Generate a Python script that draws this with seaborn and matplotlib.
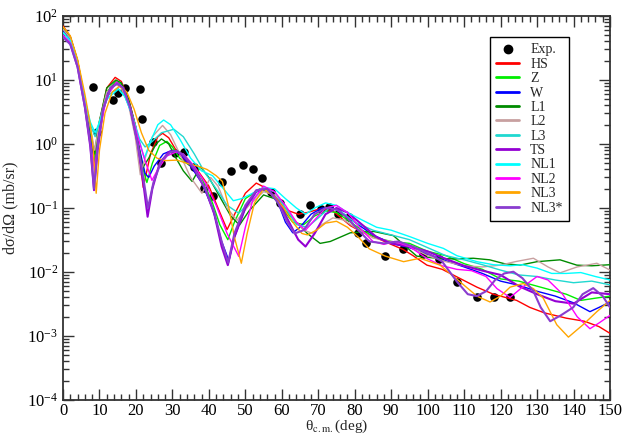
import numpy as np
import pandas as pd
import matplotlib
matplotlib.use("Agg")
import matplotlib.pyplot as plt
from matplotlib.lines import Line2D
from matplotlib.ticker import MultipleLocator, LogLocator, LogFormatterMathtext, NullFormatter
import seaborn as sns

# ---------------- data ----------------
exp_x = [8.3, 9.4, 13.8, 15.0, 16.9, 21.0, 21.8, 24.7, 26.9, 30.6, 33.1, 35.8, 38.8, 41.2,
         43.7, 46.0, 49.3, 52.1, 54.6, 57.0, 59.6, 65.1, 67.8, 70.7, 73.0, 75.3, 78.5, 81.0,
         83.2, 88.2, 93.2, 98.7, 103.0, 108.0, 113.4, 118.1, 122.6]
exp_y = [7.7, 1.56, 4.8, 6.3, 7.6, 7.2, 2.48, 1.09, 0.51, 0.73, 0.74, 0.44, 0.209, 0.154,
         0.258, 0.383, 0.47, 0.404, 0.292, 0.179, 0.118, 0.0805, 0.110, 0.0965, 0.105, 0.0805,
         0.0711, 0.0414, 0.0287, 0.0181, 0.0226, 0.0191, 0.0158, 0.00705, 0.00403, 0.0040, 0.0040]

hs_x = [0, 2, 4, 6, 7.5, 8.6, 10, 12, 14.3, 16, 18, 20, 22, 24, 26, 27.3, 29, 31, 34, 37, 40,
        42.5, 45, 47.5, 50, 53, 56, 59, 62, 64.5, 67, 70.5, 74, 78.8, 82, 86, 90, 93.2, 96,
        99.8, 104, 108, 113.5, 118, 124.4, 128, 132, 138, 143, 147, 150]
hs_y = [70, 48, 20, 5, 1.6, 0.6, 2.2, 7.5, 11, 9.5, 5, 1.8, 0.21, 0.7, 1.3, 1.47, 1.25, 0.8, 0.5,
        0.38, 0.22, 0.1, 0.046, 0.09, 0.17, 0.245, 0.2, 0.12, 0.09, 0.08, 0.085, 0.097, 0.09,
        0.053, 0.042, 0.034, 0.027, 0.0226, 0.018, 0.0128, 0.011, 0.0084, 0.0058, 0.0045,
        0.0036, 0.0028, 0.0023, 0.0019, 0.0017, 0.0014, 0.0011]

z_x = [0, 2, 4, 6, 7.5, 8.7, 10, 12, 14.5, 16, 18, 20, 21.5, 23, 24.5, 26.5, 28.5, 30, 32, 35,
       38, 41, 43, 45.2, 47, 50, 54, 57, 60, 63, 66, 69, 72, 75, 78, 82, 86, 90, 95, 100, 105,
       110, 115, 120, 125, 130, 134, 138, 142, 146, 150]
z_y = [65, 46, 19, 4.5, 1.4, 0.55, 2.0, 6.5, 9.5, 8.5, 4.5, 1.6, 0.5, 0.25, 0.5, 0.95, 1.1, 0.9,
       0.6, 0.45, 0.3, 0.12, 0.055, 0.032, 0.06, 0.14, 0.2, 0.17, 0.1, 0.06, 0.055, 0.075, 0.09,
       0.085, 0.065, 0.045, 0.034, 0.03, 0.028, 0.021, 0.018, 0.0135, 0.011, 0.0078, 0.0072,
       0.006, 0.0052, 0.0045, 0.0036, 0.0039, 0.0042]

w_x = [0, 2, 4, 6, 7.5, 8.8, 10, 12, 14.8, 16.5, 18.5, 20.5, 22.5, 23.5, 25, 27.5, 30, 32, 35,
       38, 41, 43.5, 45.5, 47, 50, 53, 56, 59, 61, 63, 65, 68, 71, 74, 77, 80, 85, 90, 95, 100,
       105, 110, 115, 120, 125, 130, 135, 140, 144.5, 147, 150]
w_y = [60, 44, 18, 4.2, 1.2, 0.45, 1.8, 6, 9, 7.5, 3.5, 1.1, 0.35, 0.3, 0.45, 0.7, 0.8, 0.7,
       0.45, 0.25, 0.1, 0.03, 0.015, 0.035, 0.1, 0.18, 0.2, 0.12, 0.06, 0.041, 0.05, 0.08, 0.1,
       0.1, 0.08, 0.06, 0.038, 0.028, 0.024, 0.019, 0.015, 0.012, 0.0095, 0.0072, 0.0062,
       0.005, 0.0042, 0.0033, 0.0024, 0.0028, 0.0034]

l1_x = [0, 2, 4, 6, 7.5, 8.6, 10, 12, 14.5, 16, 18, 20, 21.8, 23.5, 25.5, 27, 29, 31, 33,
        35.4, 37.7, 40, 43, 46, 48.4, 51, 55, 58, 61, 64, 67, 70.5, 73.3, 78.8, 85.2, 90.6,
        97, 102.5, 107, 112.5, 117, 121, 125.3, 130, 136.3, 140.9, 145, 150]
l1_y = [65, 47, 20, 5, 1.7, 0.7, 2.3, 7.5, 10, 9, 5, 1.8, 0.42, 0.6, 1.0, 1.2, 1.0, 0.6, 0.38,
        0.26, 0.44, 0.3, 0.15, 0.075, 0.054, 0.09, 0.16, 0.14, 0.09, 0.06, 0.04, 0.028, 0.03,
        0.041, 0.043, 0.037, 0.0177, 0.0164, 0.016, 0.0164, 0.0155, 0.0135, 0.0128, 0.0145,
        0.0155, 0.0128, 0.0125, 0.013]

l2_x = [0, 2, 4, 6, 7.5, 8.7, 10, 12, 14.6, 16, 18, 19.8, 21.2, 22.5, 24.5, 27.3, 29.5, 32,
        35, 38.1, 40.5, 42.5, 45, 47.7, 51, 55, 58, 61, 64, 66, 68.5, 71, 74, 77, 80, 85, 90,
        95, 100, 105, 110, 115, 120, 124, 129, 133, 136.3, 141, 146.4, 150]
l2_y = [62, 45, 19, 4.8, 1.8, 0.8, 2.2, 6.5, 8.5, 7.5, 4, 1.3, 0.33, 0.6, 1.3, 1.95, 1.4, 0.7,
        0.3, 0.17, 0.3, 0.22, 0.1, 0.064, 0.11, 0.18, 0.16, 0.1, 0.06, 0.045, 0.04, 0.055, 0.07,
        0.065, 0.05, 0.034, 0.03, 0.025, 0.018, 0.0145, 0.0125, 0.012, 0.0128, 0.0145, 0.0164,
        0.012, 0.0097, 0.012, 0.0137, 0.0107]

l3_x = [0, 2, 4, 6, 7.5, 8.8, 10, 12, 15, 17, 19, 21, 22.5, 24.5, 27, 30.4, 33, 36, 39, 42,
        45, 48.2, 51, 55, 58, 61, 64, 67, 70, 73, 76, 80, 85, 90, 95, 100, 105, 110, 115, 120,
        125, 130, 135, 140, 145, 150]
l3_y = [55, 41, 18, 4.8, 2.0, 1.3, 2.2, 5.5, 7.5, 5.5, 2.8, 1.2, 0.9, 1.1, 1.5, 1.7, 1.3, 0.7,
        0.35, 0.2, 0.11, 0.083, 0.12, 0.2, 0.18, 0.1, 0.055, 0.05, 0.07, 0.1, 0.09, 0.06, 0.045,
        0.038, 0.032, 0.024, 0.018, 0.0155, 0.013, 0.0107, 0.009, 0.0085, 0.0075, 0.0068,
        0.0072, 0.0063]

ts_x = [0, 2, 4, 6, 7.5, 8.5, 9.5, 11, 13, 14.8, 16.5, 18.5, 20.5, 22, 23.2, 24.5, 26.5, 29,
        31, 33, 36, 39, 41.5, 43.5, 45.2, 47, 50, 53, 56, 59, 62, 64.5, 66.5, 69, 72, 75, 78,
        82, 86, 90, 95, 100, 105, 110, 115, 120, 125, 130, 135, 140, 145, 150]
ts_y = [48, 37, 16, 3.8, 0.9, 0.19, 0.8, 3.5, 7.5, 9, 7.5, 3.5, 1.0, 0.25, 0.073, 0.2, 0.5,
        0.75, 0.78, 0.65, 0.4, 0.2, 0.08, 0.025, 0.0128, 0.035, 0.1, 0.18, 0.2, 0.13, 0.06,
        0.032, 0.025, 0.04, 0.08, 0.1, 0.085, 0.055, 0.035, 0.028, 0.025, 0.021, 0.016, 0.0125,
        0.0105, 0.009, 0.006, 0.0045, 0.0035, 0.0032, 0.0048, 0.0045]

nl1_x = [0, 2, 4, 6, 7.5, 8.8, 10, 12, 15.2, 17, 19, 21, 22.3, 24, 26, 27.6, 29.5, 32, 35, 38,
         41, 44, 46.7, 49, 52, 55, 58, 61, 64, 66.5, 69, 72, 75, 78, 82, 86, 90, 95.2, 100,
         104.3, 108, 113.5, 118, 122.6, 126, 130, 134, 138, 142, 146, 150]
nl1_y = [55, 41, 18, 5, 2.2, 1.5, 2.2, 5, 7.2, 5.5, 2.8, 1.1, 0.6, 1.1, 2.0, 2.37, 2.0, 1.2,
         0.6, 0.38, 0.32, 0.2, 0.13, 0.14, 0.17, 0.21, 0.2, 0.14, 0.1, 0.08, 0.1, 0.12, 0.11,
         0.085, 0.065, 0.05, 0.045, 0.0355, 0.028, 0.0234, 0.018, 0.0145, 0.013, 0.0125, 0.013,
         0.0115, 0.0095, 0.0095, 0.0098, 0.0085, 0.0075]

nl2_x = [0, 2, 4, 6, 7.5, 8.6, 10, 12, 14.7, 16.5, 18.5, 20.5, 22.5, 24.4, 26, 28.5, 31, 33,
         36, 39, 42, 45, 48.2, 50, 52, 55, 58, 61, 64, 66.5, 69, 72, 75, 78, 82, 85, 88, 91, 95,
         100, 104, 108, 112, 116, 119, 122.6, 126, 130, 133, 137, 141, 144.5, 147, 150]
nl2_y = [50, 38, 17, 4.2, 1.0, 0.4, 1.5, 5.5, 9.3, 7.5, 3.5, 1.3, 0.55, 0.27, 0.4, 0.65, 0.75,
         0.7, 0.45, 0.25, 0.11, 0.04, 0.0175, 0.05, 0.13, 0.22, 0.18, 0.11, 0.06, 0.045, 0.065,
         0.1, 0.11, 0.085, 0.045, 0.03, 0.027, 0.03, 0.025, 0.016, 0.0125, 0.011, 0.0105,
         0.0085, 0.0055, 0.004, 0.0058, 0.0085, 0.0075, 0.0045, 0.002, 0.0013, 0.0016, 0.0021]

nl3_x = [0, 2, 4, 6, 7.5, 8.3, 9.1, 10, 11.5, 13.5, 15.5, 17.5, 19.5, 21.5, 23.5, 25.8, 28,
         31.3, 34, 37, 39.5, 42, 43.7, 45.5, 47, 48.9, 50.5, 52.5, 55, 58, 60.5, 63.2, 65.5, 67,
         69.5, 72, 75, 78, 81, 84, 88.4, 93.4, 97.9, 103.4, 108.9, 113.5, 117.1, 120, 122.6,
         126.2, 129, 131.7, 135.4, 138.6, 142.6, 146.4, 150]
nl3_y = [68, 49, 21, 6, 2.0, 0.8, 0.17, 0.8, 3, 6.5, 8, 6.5, 3.5, 1.5, 0.8, 0.6, 0.55, 0.56,
         0.5, 0.45, 0.4, 0.32, 0.26, 0.1, 0.035, 0.0137, 0.04, 0.12, 0.2, 0.15, 0.1, 0.058, 0.04,
         0.038, 0.045, 0.058, 0.062, 0.05, 0.035, 0.023, 0.0177, 0.0145, 0.0164, 0.0128, 0.007,
         0.0042, 0.0034, 0.0042, 0.0058, 0.0066, 0.0055, 0.0039, 0.0015, 0.00096, 0.0015,
         0.0024, 0.0036]

nl3s_x = [0, 2, 4, 6, 7.5, 8.5, 9.5, 11, 13, 14.9, 16.5, 18.5, 20.5, 22, 23.3, 24.8, 27, 29.5,
          31, 33, 36, 39, 41.5, 43.5, 45.3, 47, 50, 53, 56, 59, 61.5, 63.5, 66, 69, 72, 75, 78,
          81, 84, 88, 92, 96, 101.6, 104, 108, 111, 113.5, 116, 118.5, 121, 123.5, 126, 129,
          131, 133.6, 136.5, 139.9, 142.5, 145.4, 148, 150]
nl3s_y = [47, 36, 16, 3.8, 1.0, 0.2, 0.9, 3.5, 7.4, 8.8, 7.5, 3.6, 1.0, 0.3, 0.1, 0.25, 0.55,
          0.75, 0.78, 0.68, 0.42, 0.2, 0.085, 0.03, 0.014, 0.04, 0.11, 0.19, 0.2, 0.12, 0.06,
          0.04, 0.045, 0.08, 0.1, 0.095, 0.07, 0.045, 0.03, 0.028, 0.03, 0.025, 0.0177, 0.0145,
          0.0071, 0.0045, 0.0042, 0.005, 0.0075, 0.0095, 0.0101, 0.008, 0.005, 0.0028, 0.0017,
          0.0021, 0.0028, 0.0045, 0.0056, 0.0042, 0.0028]

models = ["HS", "Z", "W", "L1", "L2", "L3", "TS", "NL1", "NL2", "NL3", "NL3*"]
model_x = [hs_x, z_x, w_x, l1_x, l2_x, l3_x, ts_x, nl1_x, nl2_x, nl3_x, nl3s_x]
model_y = [hs_y, z_y, w_y, l1_y, l2_y, l3_y, ts_y, nl1_y, nl2_y, nl3_y, nl3s_y]
colors = ["#ff0000", "#00ee00", "#0000ff", "#008b00", "#c8a0a0", "#20d8d0",
          "#9400d3", "#00ffff", "#ff00ff", "#ffa500", "#8a3ccf"]
widths = [1.0, 1.0, 1.0, 1.0, 1.0, 1.0, 1.5, 1.0, 1.0, 1.0, 1.5]

x_ticks = list(range(0, 151, 10))

# ---------------- plot ----------------
sns.set_style("ticks")
plt.rcParams["font.family"] = ["Liberation Serif", "DejaVu Serif"]
plt.rcParams["mathtext.fontset"] = "stix"

fig = plt.figure(figsize=(6.23, 4.38), dpi=100)
ax = fig.add_axes([63 / 623, 1 - 400 / 438, 547 / 623, 384 / 438])

exp_df = pd.DataFrame({"theta": exp_x, "xs": exp_y})
sns.scatterplot(data=exp_df, x="theta", y="xs", ax=ax, color="black", s=38,
                edgecolor="black", linewidth=0, zorder=2, legend=False)

frames = []
for name, xs, ys in zip(models, model_x, model_y):
    frames.append(pd.DataFrame({"model": name, "theta": xs, "xs": ys}))
df = pd.concat(frames, ignore_index=True)
sns.lineplot(data=df, x="theta", y="xs", hue="model", hue_order=models,
             palette=dict(zip(models, colors)), estimator=None, sort=False,
             ax=ax, legend=False, zorder=3)
for line, lw in zip(ax.get_lines(), widths):
    line.set_linewidth(lw)

ax.set_yscale("log")
ax.set_xlim(0, 150)
ax.set_ylim(1e-4, 1e2)
ax.set_xticks(x_ticks)
ax.xaxis.set_minor_locator(MultipleLocator(2))
ax.yaxis.set_major_locator(LogLocator(base=10, numticks=10))
ax.yaxis.set_minor_locator(LogLocator(base=10, subs=np.arange(2, 10), numticks=20))
ax.yaxis.set_major_formatter(LogFormatterMathtext())
ax.yaxis.set_minor_formatter(NullFormatter())
ax.tick_params(which="both", direction="in", top=True, right=True, colors="#333333",
               labelcolor="black", labelsize=12)
ax.tick_params(axis="x", which="major", pad=2)
ax.tick_params(which="major", length=8, width=1.0)
ax.tick_params(which="minor", length=4, width=1.0)
for sp in ax.spines.values():
    sp.set_color("#333333")
    sp.set_linewidth(1.3)

ax.set_xlabel(r"θ$_{\rm c.m.}$(deg)", fontsize=11, labelpad=-1)
ax.set_ylabel("dσ/dΩ (mb/sr)", fontsize=11.5, labelpad=6)

handles = [Line2D([], [], linestyle="none", marker="o", color="black", markersize=6,
                  label="Exp.")]
for name, c in zip(models, colors):
    handles.append(Line2D([], [], color=c, lw=2, label=name))
leg = ax.legend(handles=handles, loc="upper right", bbox_to_anchor=(0.925, 0.945),
                fontsize=10, frameon=True, fancybox=False, edgecolor="black",
                framealpha=1, handlelength=1.65, labelspacing=0.1, borderpad=0.45,
                handletextpad=0.8, borderaxespad=0)
leg.get_frame().set_linewidth(1.0)

fig.savefig("out.png", dpi=100)
